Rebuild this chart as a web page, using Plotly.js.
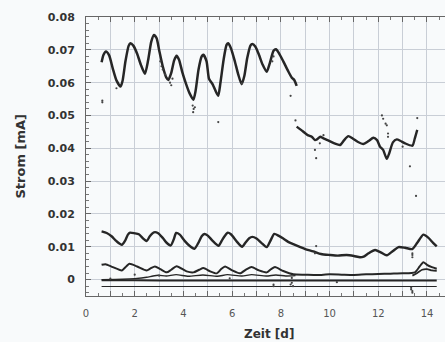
<!DOCTYPE html>
<html>
<head>
<meta charset="utf-8">
<script src="https://cdn.plot.ly/plotly-3.0.1.min.js"></script>
<style>
html,body{margin:0;padding:0;overflow:hidden;background:#f8fafb;}
#chart{width:460px;height:342px;}
</style>
</head>
<body>
<div id="chart"></div>
<script>
// Series A: upper current, first part (days, mA)
const aX = [0.64,0.72,0.82,0.95,1.1,1.25,1.42,1.5,1.62,1.75,1.82,1.95,2.1,2.25,2.42,2.55,2.68,2.79,2.9,3.0,3.15,3.3,3.38,3.5,3.62,3.72,3.82,3.95,4.1,4.25,4.41,4.5,4.62,4.75,4.82,4.95,5.05,5.2,5.35,5.43,5.52,5.65,5.77,5.84,5.95,6.1,6.25,6.39,6.5,6.62,6.75,6.83,6.95,7.1,7.25,7.42,7.55,7.7,7.8,7.92,8.1,8.3,8.45,8.55,8.65];
const aY = [0.0662,0.0685,0.0695,0.0683,0.0643,0.0607,0.0588,0.0605,0.0665,0.0712,0.0720,0.0712,0.0688,0.0655,0.0627,0.0668,0.0725,0.0745,0.0735,0.0700,0.0650,0.0615,0.0608,0.0630,0.0668,0.0682,0.0670,0.0633,0.0598,0.0568,0.0548,0.0575,0.0640,0.0680,0.0685,0.0665,0.0612,0.0595,0.0570,0.0560,0.0600,0.0670,0.0715,0.0720,0.0705,0.0668,0.0625,0.0595,0.0620,0.0675,0.0713,0.0718,0.0710,0.0685,0.0655,0.0633,0.0660,0.0697,0.0702,0.0690,0.0665,0.0635,0.0615,0.0608,0.0590];
// Series B: upper current, second part
const bX = [8.65,8.9,9.1,9.27,9.4,9.5,9.62,9.75,10.0,10.2,10.43,10.6,10.77,10.95,11.15,11.39,11.6,11.8,11.95,12.07,12.2,12.35,12.45,12.6,12.76,12.9,13.1,13.4,13.5,13.6];
const bY = [0.0466,0.0452,0.0440,0.0435,0.0425,0.0428,0.0435,0.0430,0.0422,0.0415,0.0410,0.0425,0.0437,0.0430,0.0420,0.0413,0.0422,0.0432,0.0425,0.0405,0.0395,0.0368,0.0385,0.0418,0.0427,0.0423,0.0415,0.0408,0.0430,0.0456];
// Series C: ~0.01 mA
const cX = [0.64,0.85,1.05,1.25,1.47,1.6,1.72,1.81,2.0,2.17,2.35,2.49,2.62,2.79,2.95,3.15,3.3,3.48,3.6,3.7,3.85,4.05,4.25,4.45,4.6,4.75,4.86,5.0,5.2,5.44,5.6,5.75,5.82,5.95,6.2,6.41,6.55,6.7,6.83,7.0,7.2,7.42,7.55,7.73,7.9,8.1,8.3,8.51,8.8,9.0,9.33,9.65,10.0,10.34,10.7,11.0,11.25,11.4,11.6,11.87,12.1,12.35,12.6,12.83,13.1,13.4,13.6,13.85,14.05,14.25,14.4];
const cY = [0.0147,0.0142,0.0132,0.0117,0.0106,0.0118,0.0137,0.0143,0.0141,0.0138,0.0125,0.0117,0.0132,0.0144,0.0142,0.0127,0.0113,0.0104,0.0122,0.0142,0.0137,0.0118,0.0103,0.0094,0.0110,0.0132,0.0139,0.0134,0.0118,0.0103,0.0122,0.0138,0.0143,0.0138,0.0115,0.0100,0.0113,0.0126,0.0130,0.0125,0.0112,0.0099,0.0115,0.0139,0.0134,0.0125,0.0115,0.0108,0.0099,0.0093,0.0086,0.0078,0.0075,0.0073,0.0075,0.0072,0.0068,0.0070,0.0080,0.0090,0.0083,0.0074,0.0087,0.0099,0.0097,0.0093,0.0112,0.0137,0.0128,0.0112,0.0101];
// Series D: ~0.004 mA
const dX = [0.64,0.8,1.1,1.47,1.65,1.78,2.1,2.49,2.65,2.83,3.05,3.31,3.5,3.72,4.13,4.41,4.65,4.82,5.1,5.37,5.55,5.71,6.0,6.32,6.6,6.8,7.1,7.42,7.6,7.76,8.1,8.51,9.0,9.5,10.0,10.5,11.0,11.5,12.0,12.5,13.0,13.5,13.7,13.85,14.0,14.2,14.4];
const dY = [0.0045,0.0047,0.0038,0.0028,0.0040,0.0048,0.0040,0.0028,0.0034,0.0040,0.0032,0.0022,0.0030,0.0041,0.0025,0.0022,0.0030,0.0035,0.0025,0.0019,0.0032,0.0040,0.0028,0.0019,0.0032,0.0038,0.0028,0.0022,0.0032,0.0038,0.0026,0.0016,0.0015,0.0014,0.0016,0.0015,0.0014,0.0016,0.0017,0.0018,0.0019,0.0022,0.0040,0.0053,0.0045,0.0038,0.0033];
// Series E: low wavy line
const eX = [0.64,1.5,2.0,2.49,2.75,2.97,3.3,3.7,4.2,4.8,5.4,5.8,6.4,6.8,7.4,7.8,8.2,8.6];
const eY = [0.0000,0.0001,0.0003,0.0007,0.0011,0.0013,0.0011,0.0015,0.0010,0.0014,0.0010,0.0015,0.0011,0.0015,0.0011,0.0014,0.0011,0.0012];
// Series F: near-zero line
const fX = [0.64,2.0,4.0,6.0,8.0,10.0,12.0,13.4,13.7,14.0,14.4];
const fY = [-0.0002,-0.0002,-0.0003,-0.0003,-0.0003,-0.0003,-0.0003,-0.0003,-0.0003,-0.0003,-0.0003];
// Series H: end bundle
const hX = [13.4,13.6,13.8,14.0,14.2,14.4];
const hY = [0.0012,0.0020,0.0030,0.0032,0.0028,0.0027];
// Series G: lowest flat line
const gX = [0.64,14.4];
const gY = [-0.0021,-0.0021];
// Scattered single points
const sX = [0.67,0.67,1.25,3.05,3.1,3.15,3.25,3.45,3.55,3.5,4.38,4.42,4.47,4.4,5.43,6.4,7.65,7.7,8.4,8.6,9.4,9.45,9.6,9.75,12.15,12.2,12.3,12.35,12.4,12.4,13.6,13.3,13.55,13.0,9.45,9.4,13.4,13.4,13.4,8.45,8.45,8.4,8.5,13.35,13.35,13.4,13.4,7.7,7.7,2.0,3.0,1.0,5.9,10.3];
const sY = [0.0545,0.0540,0.0583,0.0665,0.0650,0.0640,0.0625,0.0600,0.0612,0.0592,0.0530,0.0520,0.0525,0.0510,0.0480,0.0598,0.0665,0.0680,0.0560,0.0485,0.0395,0.0370,0.0415,0.0440,0.0500,0.0490,0.0475,0.0470,0.0435,0.0445,0.0492,0.0345,0.0255,0.0405,0.0102,0.0080,0.0080,0.0075,0.0068,0.0005,-0.0010,-0.0015,-0.0020,-0.0025,-0.0030,-0.0035,-0.0040,-0.0015,-0.0020,0.0015,0.0012,0.0003,0.0004,-0.0008];
// Axis ticks
const xTickVals = [0,1,2,3,4,5,6,7,8,9,10,11,12,13,14,15];
const xTickText = ['0','','2','','4','','6','','8','','10','','12','','14',''];

const ink = '#262626';
function line(x, y, w) {
  return {x: x, y: y, type: 'scatter', mode: 'lines',
          line: {color: ink, width: w, shape: 'spline', smoothing: 0.6},
          hoverinfo: 'skip', showlegend: false};
}
const traces = [
  line(aX, aY, 2.5), line(bX, bY, 2.4), line(cX, cY, 2.4),
  line(dX, dY, 2.0), line(eX, eY, 1.4), line(fX, fY, 2.0),
  line(hX, hY, 1.8), line(gX, gY, 1.2),
  {x: sX, y: sY, type: 'scatter', mode: 'markers',
   marker: {color: '#444', size: 2.2}, hoverinfo: 'skip', showlegend: false}
];

const layout = {
  width: 460, height: 342,
  margin: {l: 86, r: 5, t: 17, b: 46},
  paper_bgcolor: '#f8fafb', plot_bgcolor: '#f8fafb',
  showlegend: false,
  xaxis: {
    range: [0, 15.15], tickmode: 'array', tickvals: xTickVals, ticktext: xTickText,
    showgrid: true, gridcolor: '#c9ced6', gridwidth: 1,
    zeroline: false, showline: true, linecolor: '#666', linewidth: 1, mirror: 'allticks',
    ticks: 'inside', ticklen: 5, tickcolor: '#666',
    minor: {dtick: 0.5, ticks: 'inside', ticklen: 3, tickcolor: '#777', showgrid: false},
    tickfont: {family: 'DejaVu Sans', size: 10, color: '#555'},
    ticklabelstandoff: 8
  },
  yaxis: {
    range: [-0.005, 0.08], dtick: 0.01, tick0: 0,
    showgrid: true, gridcolor: '#c9ced6', gridwidth: 1,
    zeroline: false, showline: true, linecolor: '#666', linewidth: 1, mirror: 'allticks',
    ticks: 'inside', ticklen: 5, tickcolor: '#666',
    minor: {dtick: 0.002, ticks: 'inside', ticklen: 3, tickcolor: '#777', showgrid: false},
    tickfont: {family: 'DejaVu Sans', size: 11, color: '#333', weight: 'bold'},
    ticklabelstandoff: 8
  },
  annotations: [
    {text: 'Zeit [d]', xref: 'paper', yref: 'paper', x: 0.495, y: 0, xanchor: 'center', yanchor: 'top',
     yshift: -29, showarrow: false, font: {family: 'DejaVu Sans', size: 12, color: '#333', weight: 'bold'}},
    {text: 'Strom [mA]', xref: 'paper', yref: 'paper', x: 0, y: 0.5, xanchor: 'center', yanchor: 'middle',
     xshift: -66, textangle: -90, showarrow: false, font: {family: 'DejaVu Sans', size: 13, color: '#333', weight: 'bold'}}
  ]
};
Plotly.newPlot('chart', traces, layout, {staticPlot: true, displayModeBar: false});
</script>
</body>
</html>
